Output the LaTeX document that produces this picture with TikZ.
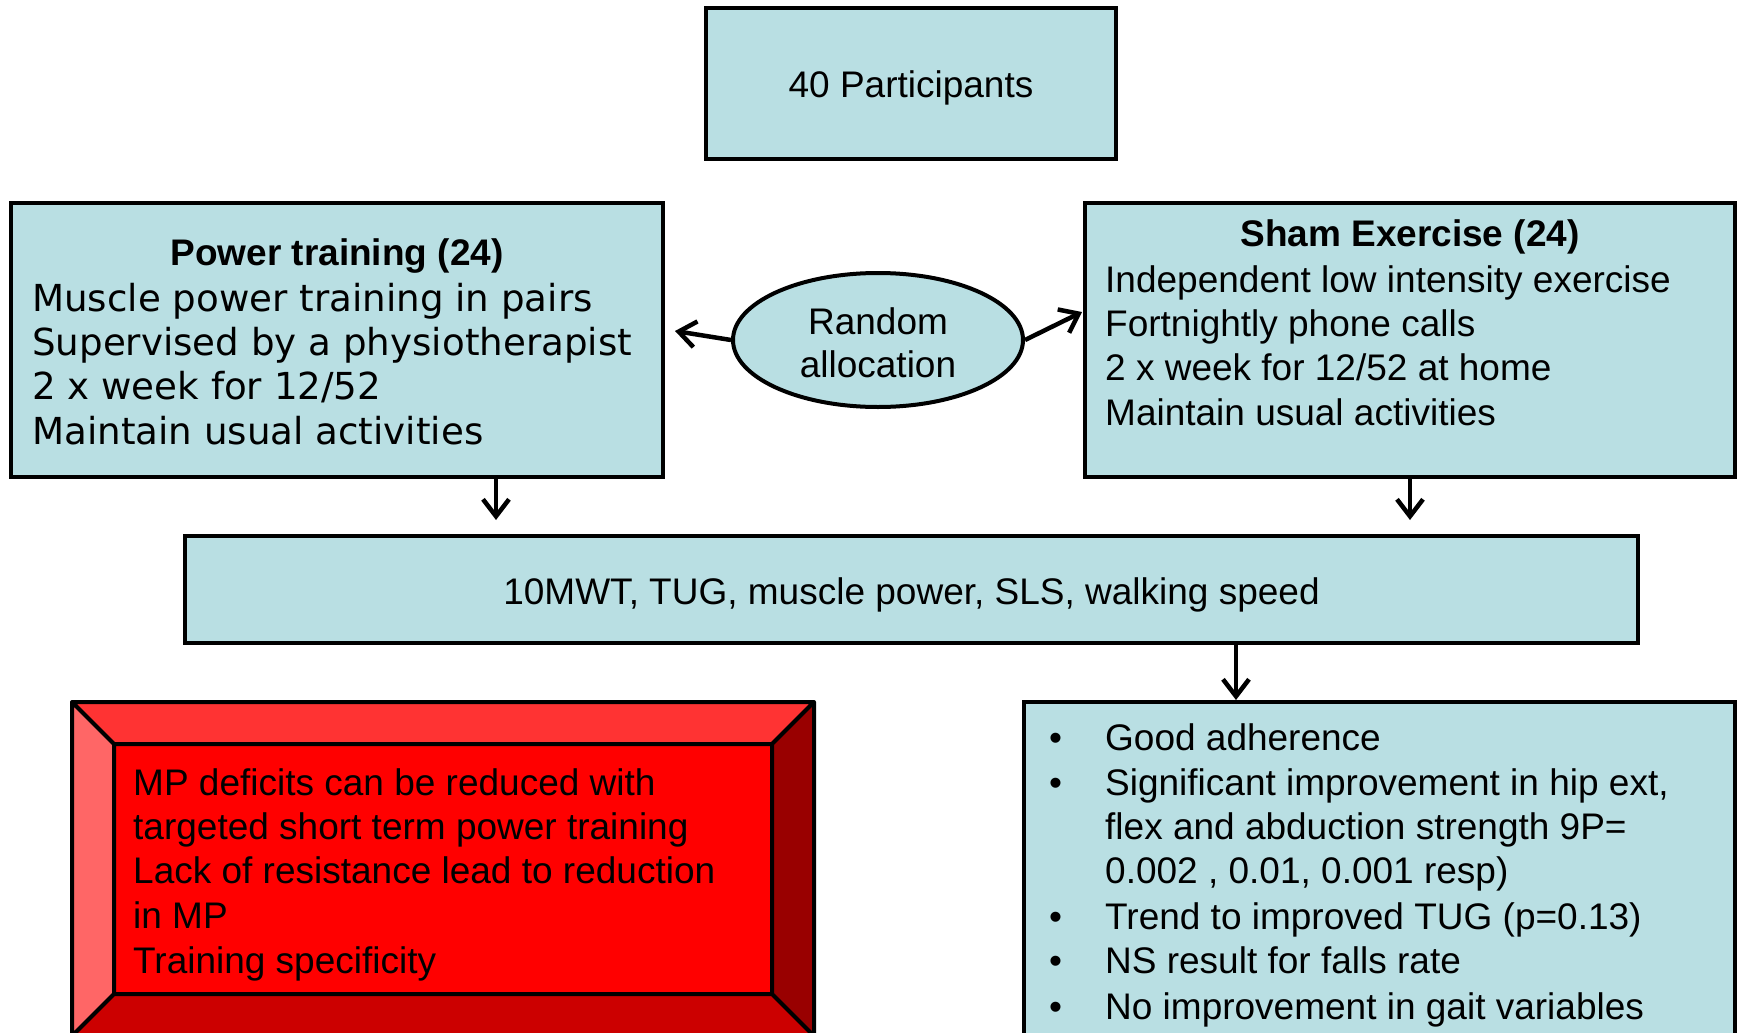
\documentclass[tikz,border=0pt]{standalone}
\usepackage{fontspec}
\setmainfont{Liberation Sans}
\newfontfamily\verdana{DejaVu Sans}
\usetikzlibrary{arrows.meta,shapes.geometric}
\definecolor{paleblue}{RGB}{185,223,227}
\definecolor{bevtop}{RGB}{255,51,51}
\definecolor{bevleft}{RGB}{255,102,102}
\definecolor{bevright}{RGB}{153,0,0}
\definecolor{bevbottom}{RGB}{204,0,0}
\definecolor{bevface}{RGB}{255,0,0}
\begin{document}
\begin{tikzpicture}[x=1pt,y=-1pt,
  box/.style={draw=black, line width=4pt, fill=paleblue, rectangle, inner sep=0pt},
  oval/.style={draw=black, line width=4pt, fill=paleblue, ellipse, inner sep=0pt},
  txt/.style={inner sep=0pt, font=\fontsize{37}{44}\selectfont},
  lft/.style={txt, anchor=base west},
  ctr/.style={txt, anchor=base},
  vtxt/.style={inner sep=0pt, anchor=base west, font=\verdana\fontsize{37.2}{44}\selectfont},
  arr/.style={line width=4.5pt, -{Straight Barb[length=17pt,width=26pt,line width=4.5pt]}}]
\useasboundingbox (0,0) rectangle (1741,1033);
\clip (0,0) rectangle (1741,1033);

% boxes
\node[box, minimum width=410pt, minimum height=151pt] (top) at (911,83.5) {};
\node[box, minimum width=652pt, minimum height=274pt] (power) at (337,340) {};
\node[box, minimum width=650pt, minimum height=274pt] (sham) at (1410,340) {};
\node[oval, minimum width=290pt, minimum height=134pt] (rand) at (878,340) {};
\node[box, minimum width=1453pt, minimum height=107pt] (meas) at (911.5,589.5) {};
\node[box, minimum width=711pt, minimum height=343pt] (res) at (1379.5,873.5) {};

% bevelled red panel
\coordinate (A) at (72,702);  \coordinate (B) at (814,702);
\coordinate (C) at (814,1036); \coordinate (D) at (72,1036);
\coordinate (a) at (114,744); \coordinate (b) at (772,744);
\coordinate (c) at (772,994); \coordinate (d) at (114,994);
\fill[bevtop] (A) -- (B) -- (b) -- (a) -- cycle;
\fill[bevleft] (A) -- (a) -- (d) -- (D) -- cycle;
\fill[bevright] (B) -- (C) -- (c) -- (b) -- cycle;
\fill[bevbottom] (D) -- (d) -- (c) -- (C) -- cycle;
\fill[bevface] (a) -- (b) -- (c) -- (d) -- cycle;
\draw[line width=4pt, line join=round] (A) -- (B) -- (C) -- (D) -- cycle
  (a) -- (b) -- (c) -- (d) -- cycle
  (A) -- (a) (B) -- (b) (C) -- (c) (D) -- (d);

% texts
\node[ctr] (toptxt) at (911,98) {40 Participants};
\node[ctr] (rand1) at (878,334) {Random};
\node[ctr] (rand2) at (878,377) {allocation};

\node[ctr, font=\fontsize{37}{44}\selectfont\bfseries] (ptitle) at (337,265) {Power training (24)};
\node[vtxt] (p1) at (32,311) {Muscle power training in pairs};
\node[vtxt] (p2) at (32,355) {Supervised by a physiotherapist};
\node[vtxt] (p3) at (32,399) {2 x week for 12/52};
\node[vtxt] (p4) at (32,444) {Maintain usual activities};

\node[ctr, font=\fontsize{37}{44}\selectfont\bfseries] (stitle) at (1410,246) {Sham Exercise (24)};
\node[lft] (s1) at (1105,292) {Independent low intensity exercise};
\node[lft] (s2) at (1105,336) {Fortnightly phone calls};
\node[lft] (s3) at (1105,380.5) {2 x week for 12/52 at home};
\node[lft] (s4) at (1105,425) {Maintain usual activities};

\node[ctr] (mtxt) at (911.5,604) {10MWT, TUG, muscle power, SLS, walking speed};

\node[lft] (r1) at (133,795) {MP deficits can be reduced with};
\node[lft] (r2) at (133,839) {targeted short term power training};
\node[lft] (r3) at (133,883.5) {Lack of resistance lead to reduction};
\node[lft] (r4) at (133,928) {in MP};
\node[lft] (r5) at (133,973) {Training specificity};

\foreach \y/\nm in {750/b1, 795/b2, 929/b3, 973/b4, 1019/b5}
  \node[lft] (\nm) at (1049,\y) {•};
\node[lft] (o1) at (1105,750) {Good adherence};
\node[lft] (o2) at (1105,795) {Significant improvement in hip ext,};
\node[lft] (o3) at (1105,839) {flex and abduction strength 9P=};
\node[lft] (o4) at (1105,883.5) {0.002 , 0.01, 0.001 resp)};
\node[lft] (o5) at (1105,929) {Trend to improved TUG (p=0.13)};
\node[lft] (o6) at (1105,973) {NS result for falls rate};
\node[lft] (o7) at (1105,1019) {No improvement in gait variables};

% connectors
\coordinate (pdrop) at (496,0);
\coordinate (rdrop) at (1236,0);
\coordinate (lend) at (675,331);
\coordinate (rend) at (1082,312);
\draw[arr] (rand.west) -- (lend);
\draw[arr] (rand.east) -- (rend);
\draw[arr, shorten >=14pt] (power.south -| pdrop) -- (meas.north -| pdrop);
\draw[arr, shorten >=14pt] (sham.south) -- (sham.south |- meas.north);
\draw[arr] (meas.south -| rdrop) -- (res.north -| rdrop);
\end{tikzpicture}
\end{document}
